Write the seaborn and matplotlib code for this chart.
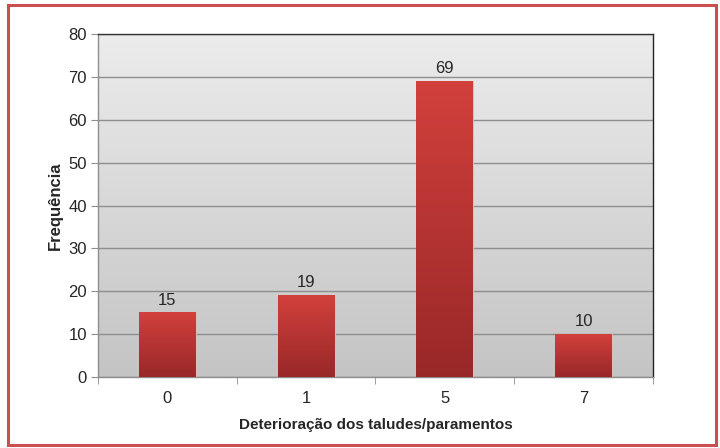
import numpy as np
import pandas as pd
import matplotlib
matplotlib.use("Agg")
import matplotlib.pyplot as plt
import seaborn as sns
from matplotlib.colors import LinearSegmentedColormap
from matplotlib.patches import Rectangle

# data
categorias = ["0", "1", "5", "7"]
frequencias = [15, 19, 69, 10]
y_ticks = [0, 10, 20, 30, 40, 50, 60, 70, 80]

df = pd.DataFrame({"cat": categorias, "freq": frequencias})

sns.set_style("white")
plt.rcParams["font.family"] = ["Liberation Sans", "DejaVu Sans"]

fig = plt.figure(figsize=(7.2, 4.48), dpi=100)
ax = fig.add_axes([0.136, 0.1585, 0.771, 0.7655])

# red frame round the figure
fig.patches.append(Rectangle((0.011, 0.006), 0.984, 0.982, transform=fig.transFigure,
                             fill=False, edgecolor="#c9504f", linewidth=2.2, zorder=0))

sns.barplot(data=df, x="cat", y="freq", color="#c43a36", width=0.41,
            saturation=1, ax=ax, zorder=3, edgecolor="#e8c8c8", linewidth=0.6)

# background gradient of the plot area
bg = LinearSegmentedColormap.from_list("bg", ["#c4c4c4", "#ececec"])
ax.imshow(np.linspace(0, 1, 256).reshape(-1, 1), cmap=bg, origin="lower",
          extent=[-0.5, 3.5, 0, 80], aspect="auto", zorder=0)

# gradient fill for the bars
red = LinearSegmentedColormap.from_list("red", ["#982828", "#d2403c"])
for p in ax.patches:
    x0, y0 = p.get_x(), p.get_y()
    w, h = p.get_width(), p.get_height()
    ax.imshow(np.linspace(0, 1, 256).reshape(-1, 1), cmap=red, origin="lower",
              extent=[x0, x0 + w, y0, y0 + h], aspect="auto", zorder=3.5)
ax.set_xlim(-0.5, 3.5)
ax.set_ylim(0, 80)

for i, v in enumerate(frequencias):
    ax.text(i, v + 1.2, str(v), ha="center", va="bottom", fontsize=12, zorder=5)

ax.set_yticks(y_ticks)
ax.yaxis.grid(True, color="#8e8e8e", linewidth=1, zorder=1)
ax.set_axisbelow(True)
ax.tick_params(axis="y", direction="out", length=5, color="#8e8e8e", labelsize=12, pad=3, left=True)
ax.set_xticks([-0.5, 0.5, 1.5, 2.5, 3.5], minor=True)
ax.tick_params(axis="x", which="major", length=0, labelsize=12, pad=10)
ax.tick_params(axis="x", which="minor", direction="out", length=5, color="#8e8e8e", bottom=True)

for s in ["left", "bottom"]:
    ax.spines[s].set_color("#8e8e8e")
    ax.spines[s].set_linewidth(1)
ax.spines["top"].set_color("#333333")
ax.spines["right"].set_color("#222222")
ax.spines["top"].set_linewidth(1)
ax.spines["right"].set_linewidth(1)

ax.set_xlabel("Deterioração dos taludes/paramentos", fontsize=11, fontweight="bold", labelpad=9)
ax.set_ylabel("Frequência", fontsize=12, fontweight="bold", labelpad=4)

fig.savefig("out.png", dpi=100)
